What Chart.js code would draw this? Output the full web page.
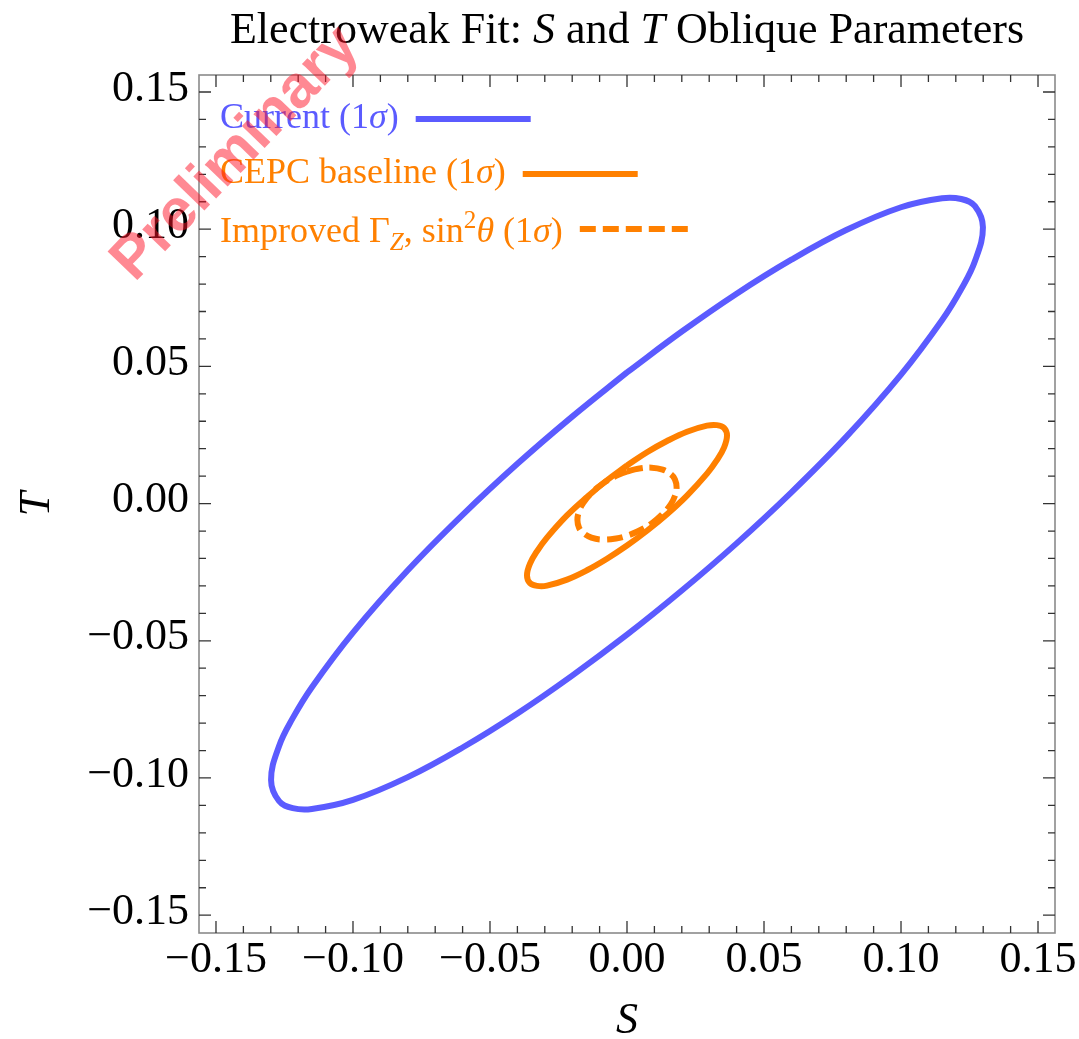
<!DOCTYPE html>
<html>
<head>
<meta charset="utf-8">
<script src="https://cdn.jsdelivr.net/npm/chart.js@4/dist/chart.umd.min.js"></script>
<style>
  html, body { margin: 0; padding: 0; background: #ffffff; }
  #wrap { width: 1079px; height: 1039px; }
</style>
</head>
<body>
<div id="wrap"><canvas id="chart" width="1079" height="1039"></canvas></div>
<script>
// 1-sigma contours in the (S, T) plane, each traced once around its ellipse
const currentS = [0.000, -0.020, -0.040, -0.060, -0.080, -0.100, -0.115, -0.122, -0.127, -0.1299,
                  -0.127, -0.122, -0.115, -0.100, -0.080, -0.060, -0.040, -0.020, 0.000,
                  0.020, 0.040, 0.060, 0.080, 0.100, 0.115, 0.122, 0.127, 0.1299,
                  0.127, 0.122, 0.115, 0.100, 0.080, 0.060, 0.040, 0.020, 0.000];
const currentT = [0.0478, 0.0317, 0.0145, -0.0041, -0.0243, -0.0470, -0.0669, -0.0782, -0.0884, -0.1007,
                  -0.1084, -0.1110, -0.1113, -0.1080, -0.0997, -0.0889, -0.0765, -0.0627, -0.0478,
                  -0.0317, -0.0145, 0.0041, 0.0243, 0.0470, 0.0669, 0.0782, 0.0884, 0.1007,
                  0.1084, 0.1110, 0.1113, 0.1080, 0.0997, 0.0889, 0.0765, 0.0627, 0.0478];

const cepcS = [0.0000, -0.0073, -0.0146, -0.0219, -0.0292, -0.0328, -0.0354, -0.0365,
               -0.0354, -0.0328, -0.0292, -0.0219, -0.0146, -0.0073, 0.0000, 0.0073, 0.0146, 0.0219, 0.0292, 0.0328, 0.0354, 0.0365,
               0.0354, 0.0328, 0.0292, 0.0219, 0.0146, 0.0073, 0.0000];
const cepcT = [0.0139, 0.0085, 0.0024, -0.0043, -0.0124, -0.0173, -0.0219, -0.0262,
               -0.0290, -0.0300, -0.0299, -0.0277, -0.0243, -0.0201, -0.0153, -0.0099, -0.0039, 0.0029, 0.0109, 0.0158, 0.0204, 0.0248,
               0.0276, 0.0286, 0.0284, 0.0262, 0.0228, 0.0187, 0.0139];

const improvedS = [0.000, 0.004, 0.009, 0.013, 0.016, 0.0175, 0.0181,
                   0.0175, 0.016, 0.013, 0.009, 0.004, 0.000, -0.004, -0.009, -0.013, -0.016, -0.0175, -0.0181,
                   -0.0175, -0.016, -0.013, -0.009, -0.004, 0.000];
const improvedT = [0.0117, 0.0127, 0.0131, 0.0124, 0.0107, 0.0088, 0.0060,
                   0.0028, -0.0002, -0.0038, -0.0072, -0.0101, -0.0117, -0.0127, -0.0131, -0.0124, -0.0107, -0.0088, -0.0060,
                   -0.0028, 0.0002, 0.0038, 0.0072, 0.0101, 0.0117];

const seriesNames = ['Current (1σ)', 'CEPC baseline (1σ)', 'Improved Γ_Z, sin²θ (1σ)'];

// Axis ticks (same on both axes)
const axisTicks = [-0.15, -0.10, -0.05, 0.00, 0.05, 0.10, 0.15];
const tickLabels = ['\u22120.15', '\u22120.10', '\u22120.05', '0.00', '0.05', '0.10', '0.15'];

// Rich-text pieces for the title and the legend entries
const titleRuns = [{t: 'Electroweak Fit: '}, {t: 'S', it: 1}, {t: ' and '}, {t: 'T', it: 1}, {t: ' Oblique Parameters'}];
const legendRuns = [
  [{t: 'Current (1'}, {t: 'σ', it: 1}, {t: ')'}],
  [{t: 'CEPC baseline (1'}, {t: 'σ', it: 1}, {t: ')'}],
  [{t: 'Improved Γ'}, {t: 'Z', it: 1, sub: 1}, {t: ', sin'}, {t: '2', sup: 1}, {t: 'θ', it: 1}, {t: ' (1'}, {t: 'σ', it: 1}, {t: ')'}]
];

const SERIF = '"Liberation Serif", "Times New Roman", serif';
const BLUE = '#5b5bff';
const ORANGE = '#ff8000';

function toPoints(xs, ys) { return xs.map((x, i) => ({x: x, y: ys[i]})); }

function drawRuns(ctx, runs, x, y, size, draw) {
  let cx = x;
  for (const r of runs) {
    const s = (r.sub || r.sup) ? size * 0.7 : size;
    ctx.font = (r.it ? 'italic ' : '') + s + 'px ' + SERIF;
    const dy = r.sub ? size * 0.22 : (r.sup ? -size * 0.38 : 0);
    if (draw) ctx.fillText(r.t, cx, y + dy);
    cx += ctx.measureText(r.t).width;
  }
  return cx;
}

// Frame with inward ticks on all four sides, title, legend and watermark
const decorations = {
  id: 'decorations',
  afterDatasetsDraw(chart) {
    const {ctx, chartArea: a, scales} = chart;
    ctx.save();

    // frame
    ctx.strokeStyle = '#8a8a8a';
    ctx.lineWidth = 1.6;
    ctx.strokeRect(a.left, a.top, a.right - a.left, a.bottom - a.top);

    // ticks every 0.01, longer at the labelled 0.05 steps
    ctx.strokeStyle = '#333333';
    ctx.lineWidth = 1.3;
    ctx.beginPath();
    for (let i = -15; i <= 15; i++) {
      const v = i / 100;
      const len = (i % 5 === 0) ? 12 : 7;
      const px = scales.x.getPixelForValue(v);
      const py = scales.y.getPixelForValue(v);
      ctx.moveTo(px, a.bottom); ctx.lineTo(px, a.bottom - len);
      ctx.moveTo(px, a.top); ctx.lineTo(px, a.top + len);
      ctx.moveTo(a.left, py); ctx.lineTo(a.left + len, py);
      ctx.moveTo(a.right, py); ctx.lineTo(a.right - len, py);
    }
    ctx.stroke();

    // title
    ctx.fillStyle = '#000000';
    ctx.textBaseline = 'alphabetic';
    ctx.textAlign = 'left';
    const tSize = 44;
    const tw = drawRuns(ctx, titleRuns, 0, 0, tSize, false);
    const tcx = (a.left + a.right) / 2;
    drawRuns(ctx, titleRuns, tcx - tw / 2, 43, tSize, true);

    // legend: text followed by a line sample
    const lSize = 36;
    const lineYs = [119, 174, 229];
    const baseYs = [128, 183, 242];
    chart.data.datasets.forEach((ds, i) => {
      ctx.fillStyle = ds.borderColor;
      const end = drawRuns(ctx, legendRuns[i], 220, baseYs[i], lSize, true);
      ctx.strokeStyle = ds.borderColor;
      ctx.lineWidth = 6;
      ctx.setLineDash(ds.borderDash || []);
      ctx.beginPath();
      ctx.moveTo(end + 17, lineYs[i]);
      ctx.lineTo(end + 132, lineYs[i]);
      ctx.stroke();
      ctx.setLineDash([]);
    });

    // watermark
    ctx.translate(236, 154);
    ctx.rotate(-46 * Math.PI / 180);
    ctx.font = 'bold 60px "Liberation Sans", Arial, sans-serif';
    ctx.fillStyle = 'rgba(255, 20, 40, 0.5)';
    ctx.textAlign = 'center';
    ctx.textBaseline = 'middle';
    ctx.fillText('Preliminary', 0, 0);

    ctx.restore();
  }
};

const tickFont = {family: SERIF, size: 44};

new Chart(document.getElementById('chart'), {
  type: 'scatter',
  data: {
    datasets: [
      {label: seriesNames[0], data: toPoints(currentS, currentT), borderColor: BLUE, borderWidth: 6},
      {label: seriesNames[1], data: toPoints(cepcS, cepcT), borderColor: ORANGE, borderWidth: 6},
      {label: seriesNames[2], data: toPoints(improvedS, improvedT), borderColor: ORANGE, borderWidth: 6, borderDash: [16, 7]}
    ].map(d => Object.assign(d, {showLine: true, fill: false, tension: 0.4, pointRadius: 0, borderJoinStyle: 'round'}))
  },
  options: {
    responsive: false,
    animation: false,
    events: [],
    layout: {padding: {top: 75, right: 24, left: 0, bottom: 0}},
    plugins: {legend: {display: false}, tooltip: {enabled: false}, title: {display: false}},
    scales: {
      x: {
        type: 'linear', min: -0.1562, max: 0.1562, bounds: 'data',
        grid: {display: false, drawTicks: false},
        border: {display: false},
        afterBuildTicks: s => { s.ticks = axisTicks.map(v => ({value: v})); },
        ticks: {callback: (v, i) => tickLabels[i], font: tickFont, color: '#000', padding: 1, maxRotation: 0, autoSkip: false},
        title: {display: true, text: 'S', color: '#000', padding: 0, font: {family: SERIF, style: 'italic', size: 44, lineHeight: 0.8}},
        afterFit: s => { s.height = 106; s.paddingLeft = 0; s.paddingRight = 0; }
      },
      y: {
        type: 'linear', min: -0.1565, max: 0.1562, bounds: 'data',
        grid: {display: false, drawTicks: false},
        border: {display: false},
        afterBuildTicks: s => { s.ticks = axisTicks.map(v => ({value: v})); },
        ticks: {callback: (v, i) => tickLabels[i], font: tickFont, color: '#000', padding: 10, labelOffset: -3, autoSkip: false},
        title: {display: true, text: 'T', color: '#000', padding: {top: 20, bottom: 0}, font: {family: SERIF, style: 'italic', size: 44, lineHeight: 0.8}},
        afterFit: s => { s.width = 199; s.paddingTop = 0; s.paddingBottom = 0; }
      }
    }
  },
  plugins: [decorations]
});
</script>
</body>
</html>
